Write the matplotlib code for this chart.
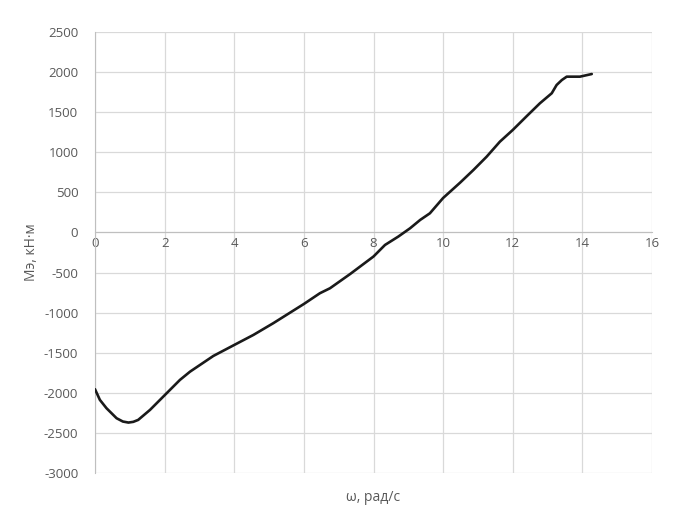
import matplotlib
matplotlib.use("Agg")
import matplotlib.pyplot as plt

omega = [0, 0.14, 0.33, 0.62, 0.80, 0.96, 1.10, 1.24, 1.58, 2.01, 2.44, 2.73, 3.40, 4.0, 4.55,
         5.12, 6.0, 6.46, 6.75, 7.33, 8.0, 8.33, 8.71, 9.05, 9.34, 9.62, 10.0,
         10.49, 10.87, 11.25, 11.63, 12.0, 12.4, 12.78, 13.12, 13.26, 13.41,
         13.55, 13.93, 14.27]
moment = [-1955, -2088, -2192, -2317, -2358, -2371, -2362, -2338, -2213, -2026, -1839, -1736,
          -1540, -1403, -1278, -1132, -892, -758, -696, -518, -300, -156, -52,
          52, 156, 239, 430, 622, 779, 945, 1132, 1278, 1450, 1611, 1736, 1839,
          1901, 1943, 1943, 1976]
xticks = [0, 2, 4, 6, 8, 10, 12, 14, 16]
yticks = [-3000, -2500, -2000, -1500, -1000, -500, 0, 500, 1000, 1500, 2000, 2500]
xlabel = "ω, рад/с"
ylabel = "Мэ, кН·м"

plt.rcParams['font.family'] = ['Open Sans', 'DejaVu Sans']
plt.rcParams['axes.unicode_minus'] = False
fig = plt.figure(figsize=(6.95, 5.09), dpi=100)
ax = fig.add_axes([95/695, 1-473/509, 557/695, 441/509])

ax.plot(omega, moment, color='#1a1a1a', lw=1.9, solid_capstyle='round',
        solid_joinstyle='round', zorder=3)
ax.set_xlim(0, 16)
ax.set_ylim(-3000, 2500)
ax.set_xticks(xticks)
ax.set_yticks(yticks)
ax.grid(True, color='#d9d9d9', lw=0.9)
ax.set_axisbelow(True)
for s in ['top', 'right']:
    ax.spines[s].set_visible(False)
ax.spines['bottom'].set_position(('data', 0))
ax.spines['bottom'].set_color('#bfbfbf')
ax.spines['left'].set_color('#bfbfbf')
ax.spines['bottom'].set_zorder(2)
ax.tick_params(length=0, labelsize=9.5, colors='#595959')
ax.tick_params(axis='y', pad=12)
ax.tick_params(axis='x', pad=3)
ax.set_xlabel(xlabel, fontsize=10, color='#595959')
ax.set_ylabel(ylabel, fontsize=10, color='#595959')
ax.xaxis.set_label_coords(0.5, -0.038)
ax.yaxis.set_label_coords(-0.10, 0.5)

fig.savefig("out.png", dpi=100)
